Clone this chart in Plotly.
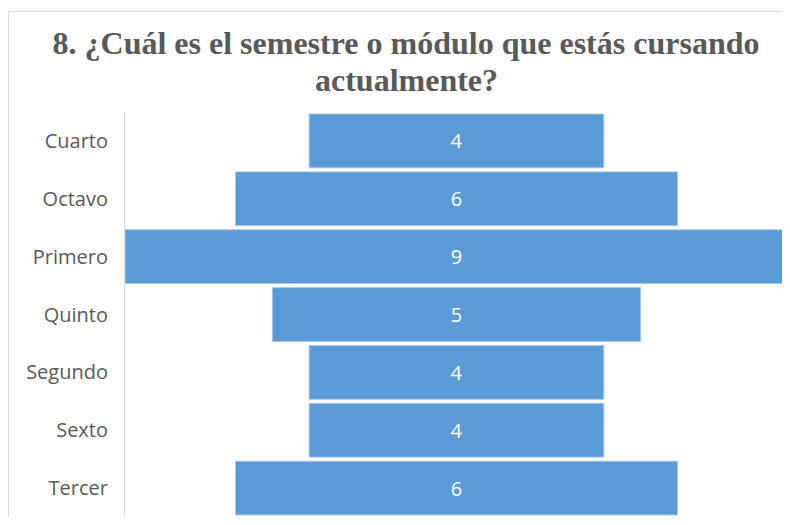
import plotly.graph_objects as go

categories = ["Cuarto", "Octavo", "Primero", "Quinto", "Segundo", "Sexto", "Tercer"]
values = [4, 6, 9, 5, 4, 4, 6]
title_line1 = "8. ¿Cuál es el semestre o módulo que estás cursando"
title_line2 = "actualmente?"

L, T, PW = 117, 104, 663
W, H = 782, 509
PH = H - T
SANS = "Open Sans, Noto Sans, sans-serif"
SERIF = "Liberation Serif, Times New Roman, serif"
GREY = "#595959"

fig = go.Figure(go.Funnel(
    y=categories,
    x=values,
    textinfo="value",
    textposition="inside",
    insidetextfont=dict(color="white", size=20, family=SANS),
    marker=dict(color="#5b9bd5", line=dict(color="#a9c8e8", width=1)),
    connector=dict(visible=False),
    hoverinfo="y+x",
))

fig.update_layout(
    width=W, height=H,
    margin=dict(l=L, r=W - L - PW, t=T, b=0, pad=0),
    paper_bgcolor="white",
    plot_bgcolor="white",
    title=dict(text="<b>" + title_line1 + "</b>", x=398 / W, xanchor="center",
               xref="container", yref="container", y=1 - 35 / H, yanchor="middle",
               font=dict(family=SERIF, size=32, color=GREY)),
    xaxis=dict(range=[-4.5, 4.5], visible=False, fixedrange=True),
    yaxis=dict(showline=True, linecolor="#d9d9d9", linewidth=1, ticks="",
               tickfont=dict(family=SANS, size=20, color=GREY),
               ticklabelstandoff=12),
    funnelgap=0.07,
    showlegend=False,
)
fig.add_annotation(text="<b>" + title_line2 + "</b>", xref="paper", yref="paper",
                   x=(398 - L) / PW, y=1 + (T - 72) / PH, xanchor="center", yanchor="middle",
                   showarrow=False, font=dict(family=SERIF, size=32, color=GREY))
fig.add_shape(type="line", xref="paper", yref="paper", x0=(0.5 - L) / PW, x1=1.01,
              y0=1 + (T - 3.5) / PH, y1=1 + (T - 3.5) / PH,
              line=dict(color="#d9d9d9", width=1))
fig.add_shape(type="line", xref="paper", yref="paper", x0=(0.5 - L) / PW, x1=(0.5 - L) / PW,
              y0=-0.05, y1=1 + (T - 3.5) / PH,
              line=dict(color="#d9d9d9", width=1))

fig.write_html("out.html")
